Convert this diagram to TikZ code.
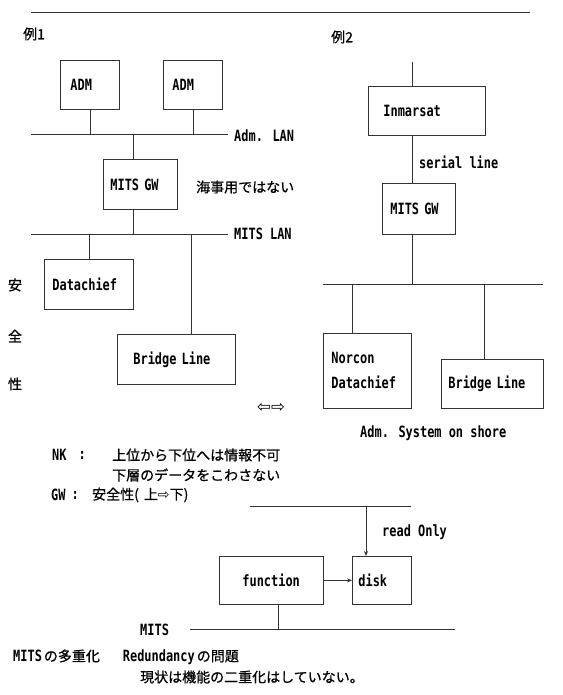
\documentclass[tikz,border=0pt]{standalone}
\usepackage{fontspec}
\setmainfont{DejaVu Sans Mono}[FakeStretch=0.77]
\newfontfamily\jafont{Noto Sans CJK JP}[FakeBold=0.7]
\newfontfamily\symfont{DejaVu Sans}
\usetikzlibrary{arrows.meta}
\newcommand\J[1]{{\jafont\mdseries\fontsize{14pt}{25pt}\selectfont #1}}
\tikzset{
  every node/.style={font=\fontsize{15.5pt}{25pt}\selectfont\bfseries, inner sep=0pt},
  ln/.style={draw=black!80, line width=0.8pt},
  box/.style={ln, anchor=north west, align=left, inner ysep=0pt},
  lbl/.style={anchor=west},
  arr/.style={ln, -{Stealth[length=5pt,width=4pt]}}
}
\begin{document}
\begin{tikzpicture}[x=1pt,y=-1pt]
\useasboundingbox (0,0) rectangle (562,695);
% top rule
\coordinate (top1) at (31,12); \coordinate (top2) at (530,12);
\draw[ln] (top1) -- (top2);

% ---------- Example 1 ----------
\node[lbl] (ex1) at (23,34) {\J{例1}};
\node[box, inner xsep=10pt, text width=39pt, minimum height=49pt] (adm1) at (60,60) {ADM};
\node[box, inner xsep=9pt, text width=41pt, minimum height=49pt] (adm2) at (163,60) {ADM};
\coordinate (aL) at (31,134); \coordinate (aR) at (228,134);
\draw[ln] (aL) -- (aR);
\node[lbl] (admlan) at (234,136) {Adm. LAN};
\draw[ln] (adm1.south) -- (adm1.south |- aL);
\draw[ln] (adm2.south) -- (adm2.south |- aL);
\node[box, inner xsep=7pt, text width=60pt, minimum height=50pt] (gw1) at (103,159) {MITS GW};
\node[lbl] (kaiji) at (196,187) {\J{海事用ではない}};
\coordinate (mL) at (31,234); \coordinate (mR) at (228,234);
\draw[ln] (mL) -- (mR);
\node[lbl] (mitslan) at (234,234) {MITS LAN};
\coordinate (g1) at (133,134);
\draw[ln] (g1) -- (g1 |- gw1.north);
\draw[ln] (g1 |- gw1.south) -- (g1 |- mL);
\node[box, inner xsep=8pt, text width=73pt, minimum height=50pt] (dc1) at (44,259) {Datachief};
\node[box, inner xsep=16pt, text width=86pt, minimum height=50pt] (bl1) at (117,334) {Bridge Line};
\draw[ln] (dc1.north) -- (dc1.north |- mL);
\coordinate (b1) at (191,234);
\draw[ln] (b1) -- (b1 |- bl1.north);
\node (an) at (15,285) {\J{安}};
\node (zen) at (15,336) {\J{全}};
\node (sei) at (15,384) {\J{性}};
\node (lr) at (271,408) {\symfont\mdseries\fontsize{16.5pt}{20pt}\selectfont ⇦⇨};

% ---------- Example 2 ----------
\node[lbl] (ex2) at (331,37) {\J{例2}};
\node[box, inner xsep=15pt, text width=87pt, minimum height=49pt] (inm) at (368,86) {Inmarsat};
\node[box, inner xsep=8pt, text width=57pt, minimum height=51pt] (gw2) at (382,183) {MITS GW};
\coordinate (s2) at (412,62);
\draw[ln] (s2) -- (s2 |- inm.north);
\draw[ln] (s2 |- inm.south) -- (s2 |- gw2.north);
\node[lbl] (serial) at (419,162) {serial line};
\coordinate (l2L) at (323,284); \coordinate (l2R) at (543,284);
\draw[ln] (l2L) -- (l2R);
\draw[ln] (s2 |- gw2.south) -- (s2 |- l2L);
\node[box, inner xsep=8pt, text width=72pt, minimum height=75pt] (nd) at (323,333) {Norcon\\Datachief};
\node[box, inner xsep=7pt, text width=88pt, minimum height=49pt] (bl2) at (441,359) {Bridge Line};
\coordinate (n2) at (352,284);
\draw[ln] (n2) -- (n2 |- nd.north);
\coordinate (b2) at (484,284);
\draw[ln] (b2) -- (b2 |- bl2.north);
\node[lbl] (shore) at (360,433) {Adm. System on shore};

% ---------- notes ----------
\node[lbl] (nk) at (52,455) {NK};
\node[lbl] (nkc) at (78.5,455) {:};
\node[lbl] (nk1) at (112,455) {\J{上位から下位へは情報不可}};
\node[lbl] (nk2) at (112,475) {\J{下層のデータをこわさない}};
\node[lbl] (gw) at (51,495) {GW};
\node[lbl] (gwc) at (71.5,495) {:};
\node[lbl] (gwt) at (92,495) {\J{安全性(}\hspace{5pt}\J{上}{\symfont\mdseries\fontsize{14pt}{20pt}\selectfont ⇨}\J{下)}};

% ---------- lower diagram ----------
\coordinate (rL) at (250,506); \coordinate (rR) at (411,506);
\draw[ln] (rL) -- (rR);
\node[box, inner xsep=23pt, text width=58pt, minimum height=48pt] (fn) at (219,556) {function};
\node[box, inner xsep=6pt, text width=47pt, minimum height=48pt] (dk) at (352,556) {disk};
\coordinate (r1) at (366,506);
\draw[arr] (r1) -- (r1 |- dk.north);
\node[lbl] (readonly) at (382,532) {read Only};
\draw[arr] (fn.east) -- (dk.west);
\coordinate (ml2L) at (190,629); \coordinate (ml2R) at (455,629);
\draw[ln] (ml2L) -- (ml2R);
\coordinate (f1) at (278,629);
\draw[ln] (f1 |- fn.south) -- (f1);
\node[lbl] (mitslbl) at (140,630) {MITS};
\node[lbl] (red) at (13,657) {MITS\hspace{2pt}\J{の多重化}\hspace{23pt}Redundancy\hspace{2pt}\J{の問題}};
\node[lbl] (genjo) at (140,677) {\J{現状は機能の二重化はしていない。}};
\end{tikzpicture}
\end{document}
